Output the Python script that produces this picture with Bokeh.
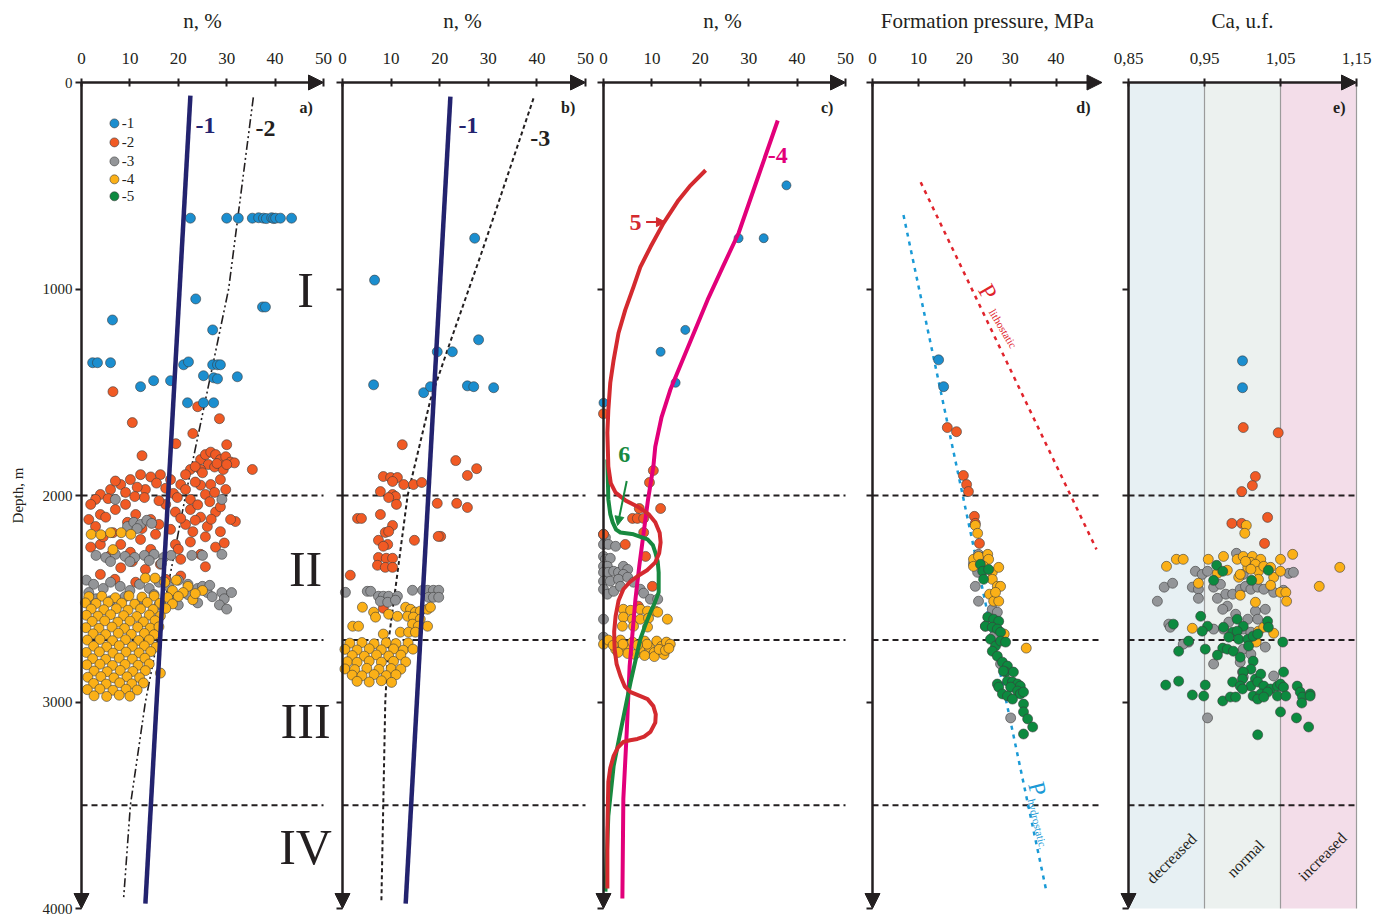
from bokeh.plotting import figure
from bokeh.layouts import row
from bokeh.models import Range1d, FixedTicker, Arrow, NormalHead
from bokeh.embed import file_html
from bokeh.resources import INLINE
from bokeh.core.properties import value

FONT = "Liberation Serif"
AX = "#231f20"
C1, C2, C3, C4, C5 = "#1b8ecf", "#f15a24", "#939598", "#fbb017", "#0c8a3f"
NAVY, MAGENTA, RED, GREENL = "#23236f", "#e2007a", "#d42a2f", "#17893f"

# ---------------- data ----------------
depth_ticks = [0, 1000, 2000, 3000, 4000]
zone_bounds = [2000, 2700, 3500]
zone_names = ["I", "II", "III", "IV"]
zone_label_depth = [1005, 2357, 3092, 3700]
n_ticks = [0, 10, 20, 30, 40, 50]
p_ticks = [0, 10, 20, 30, 40]
ca_ticks = [0.85, 0.95, 1.05, 1.15]
ca_labels = ["0,85", "0,95", "1,05", "1,15"]
ca_bands = [0.85, 0.95, 1.05, 1.15]
ca_band_names = ["decreased", "normal", "increased"]
panel_titles = ["n, %", "n, %", "n, %", "Formation pressure, MPa", "Ca, u.f."]

# trend lines (n %, depth m)
line1_a = [(22.5, 63), (13.2, 3976)]
line2_a = [(35.5, 72), (30.4, 1000), (21.5, 2000), (15.7, 2700), (13.2, 3000), (10.1, 3500), (8.7, 3952)]
line1_b = [(22.2, 68), (13.0, 3976)]
line3_b = [(39.3, 77), (28.8, 812), (21.6, 1295), (18.1, 1536), (13.4, 2000), (9.5, 2700), (8.8, 3000), (8.0, 3966)]
line4_c = [(36.0, 184), (31.9, 460), (27.9, 730), (24.6, 895), (21.5, 1053), (17.4, 1285), (13.8, 1488),
           (12.0, 1620), (10.7, 1763), (10.3, 1860), (9.2, 2020), (8.3, 2179), (7.4, 2340), (6.6, 2502),
           (5.4, 2826), (4.8, 3145), (4.1, 3469), (3.9, 3952)]
line5_c = [(21.1, 425), (18.0, 498), (15.5, 570), (12.4, 681), (9.7, 797), (7.6, 894), (6.2, 990), (4.5, 1101),
           (3.1, 1213), (2.1, 1343), (1.4, 1454), (1.0, 1585), (0.8, 1696), (1.0, 1860), (1.5, 1940), (2.5, 1986),
           (4.6, 2025), (7.0, 2053), (9.3, 2090), (10.7, 2130), (11.6, 2180), (11.8, 2227), (11.5, 2280),
           (10.7, 2324), (9.0, 2362), (7.0, 2391), (5.4, 2420), (4.1, 2454), (3.1, 2510), (2.5, 2584), (2.2, 2660),
           (2.3, 2744), (2.7, 2815), (3.5, 2874), (4.4, 2925), (5.6, 2952), (7.5, 2970), (9.1, 2986), (10.3, 3020),
           (10.8, 3060), (10.7, 3100), (9.7, 3145), (8.4, 3168), (7.0, 3179), (5.5, 3185), (4.1, 3193), (3.0, 3220),
           (2.1, 3261), (1.4, 3320), (1.0, 3386), (0.9, 3500), (0.8, 3628), (0.8, 3903)]
line6_c = [(0.8, 1826), (1.0, 2019), (1.4, 2090), (1.9, 2130), (2.6, 2165), (3.5, 2179), (6.2, 2188), (9.1, 2213),
           (10.2, 2240), (10.7, 2275), (11.2, 2320), (11.4, 2372), (11.4, 2469), (10.6, 2520), (9.7, 2565),
           (8.6, 2630), (7.6, 2696), (5.6, 2903), (3.5, 3145), (2.1, 3309), (1.0, 3551), (0.4, 3918)]
p_litho = [(10.5, 483), (48.8, 2261)]
p_hydro = [(6.75, 642), (37.9, 3918)]

# panel a points
a_blue = [(22.5, 657), (30.0, 657), (32.4, 657), (35.3, 657), (36.6, 655), (37.6, 657), (38.2, 659), (39.3, 655),
          (39.7, 659), (40.1, 657), (41.1, 657), (43.4, 657), (23.6, 1048), (37.4, 1087), (38.0, 1087), (6.4, 1150),
          (27.1, 1198), (2.3, 1357), (3.3, 1357), (6.0, 1357), (12.2, 1473), (14.9, 1444), (18.4, 1444), (21.1, 1367),
          (22.1, 1353), (27.1, 1367), (28.1, 1367), (28.7, 1367), (25.2, 1420), (27.3, 1430), (28.1, 1435),
          (32.2, 1425), (21.9, 1551), (25.2, 1551), (27.3, 1551)]
a_orange = [(6.5, 1497), (10.5, 1647), (24.0, 1570), (28.5, 1628), (23.0, 1700), (19.5, 1749), (30.0, 1754),
            (12.5, 1807), (35.3, 1874), (31.8, 2126),
            (24.6, 1826), (25.6, 1802), (26.7, 1790), (27.7, 1802), (28.7, 1826), (29.8, 1812), (26.2, 1850),
            (27.5, 1862), (29.3, 1874), (30.8, 1838), (31.6, 1842), (24.6, 1874), (22.5, 1874), (21.5, 1899),
            (23.5, 1860), (25.0, 1890), (28.0, 1845), (30.0, 1850),
            (12.2, 1899), (14.3, 1910), (16.3, 1899), (10.1, 1923), (8.1, 1947), (18.4, 1923), (20.5, 1947),
            (6.0, 1971), (3.9, 1995), (2.9, 2019), (9.1, 1985), (13.2, 1971), (17.4, 1965), (21.5, 1971),
            (24.6, 1950), (26.7, 1947), (28.7, 1923), (29.8, 1971), (25.6, 1995), (22.5, 2019), (19.0, 1990),
            (15.5, 1940), (11.5, 1960), (7.0, 1930), (27.5, 1985), (23.5, 1935),
            (1.9, 2043), (3.9, 2092), (1.5, 2116), (2.9, 2150), (5.0, 2105), (7.0, 2068), (9.1, 2043), (11.2, 2092),
            (14.3, 2116), (17.4, 2043), (19.4, 2080), (22.5, 2068), (24.6, 2105), (27.7, 2080), (28.7, 2055),
            (30.8, 2116), (21.5, 2140), (18.4, 2164), (15.3, 2188), (12.2, 2213), (8.1, 2237), (3.9, 2237),
            (1.9, 2250), (10.1, 2275), (14.3, 2261), (19.4, 2237), (22.5, 2225), (25.6, 2200), (28.7, 2175),
            (24.6, 2285), (20.5, 2309), (16.3, 2333), (13.2, 2358), (8.1, 2350), (3.9, 2382), (6.9, 2406),
            (11.2, 2420), (17.4, 2406), (20.5, 2390), (25.6, 2345), (27.7, 2250), (26.0, 2150), (23.0, 2175),
            (16.0, 2140), (12.5, 2160), (6.5, 2180), (9.5, 2130), (4.5, 2200), (29.5, 2230), (20.0, 2260),
            (6.0, 2290), (10.5, 2320), (13.0, 2010), (16.0, 2025), (19.8, 2010), (24.0, 2045), (26.5, 2030),
            (20.5, 2110), (23.5, 2120), (26.8, 2115), (11.0, 2005), (5.5, 2015)]
a_grey = [(7.0, 2019), (29.0, 2019), (9.5, 2150), (10.8, 2130), (12.2, 2140), (13.5, 2120), (11.5, 2160),
          (14.5, 2135), (3.0, 2290), (5.0, 2300), (7.0, 2285), (9.0, 2295), (11.0, 2300), (13.0, 2290),
          (15.0, 2285), (17.0, 2300), (18.5, 2290), (6.0, 2320), (10.0, 2320), (14.0, 2315), (16.5, 2330),
          (22.8, 2290), (25.0, 2290), (29.0, 2285), (1.0, 2410), (2.5, 2430), (1.5, 2470), (3.0, 2500),
          (2.0, 2530), (4.5, 2450), (6.0, 2420), (8.0, 2440), (10.0, 2460), (12.0, 2430), (14.0, 2450),
          (16.0, 2420), (18.0, 2440), (20.0, 2410), (22.0, 2430), (24.0, 2450), (26.0, 2470), (27.0, 2490),
          (22.0, 2480), (18.5, 2500), (15.0, 2480), (12.5, 2500), (25.0, 2440), (26.5, 2435), (29.0, 2470),
          (29.5, 2500), (31.0, 2470), (28.5, 2530), (30.0, 2550), (20.0, 2530), (24.0, 2520), (6.0, 2510),
          (9.0, 2490), (16.0, 2530)]
a_yellow = [(2.0, 2188), (4.0, 2190), (6.0, 2180), (8.2, 2180), (10.2, 2188), (6.5, 2262), (13.2, 2400),
            (15.2, 2400), (17.2, 2420), (19.6, 2410), (22.0, 2440), (25.0, 2460), (18.8, 2460), (23.0, 2505),
            (21.0, 2470), (23.5, 2475),
            (1.5, 2490), (4.2, 2488), (7.0, 2495), (9.8, 2486), (12.5, 2492), (15.0, 2487), (17.8, 2494), (20.0, 2489),
            (0.8, 2520), (3.0, 2523), (5.5, 2517), (8.3, 2521), (11.0, 2526), (13.6, 2518), (16.2, 2522), (18.8, 2525),
            (2.0, 2550), (4.6, 2553), (7.2, 2548), (9.6, 2555), (12.2, 2549), (14.8, 2552), (17.4, 2547),
            (1.0, 2580), (3.4, 2584), (6.0, 2577), (8.7, 2582), (11.4, 2586), (14.0, 2579), (16.3, 2583),
            (2.2, 2610), (4.8, 2607), (7.5, 2613), (10.0, 2608), (12.8, 2612), (15.2, 2606),
            (0.9, 2640), (3.6, 2643), (6.3, 2637), (8.9, 2644), (11.6, 2638), (14.2, 2642), (16.0, 2636),
            (2.4, 2670), (5.0, 2673), (7.6, 2667), (10.3, 2672), (13.0, 2668), (15.0, 2674),
            (1.2, 2700), (3.8, 2697), (6.4, 2703), (9.1, 2698), (11.8, 2702), (14.0, 2699),
            (2.5, 2730), (5.2, 2733), (7.8, 2727), (10.5, 2731), (13.0, 2728), (15.4, 2734),
            (1.0, 2760), (3.7, 2757), (6.5, 2763), (9.2, 2758), (11.9, 2762), (14.3, 2756),
            (2.3, 2790), (5.0, 2793), (7.8, 2787), (10.5, 2792), (13.1, 2788),
            (1.1, 2820), (3.8, 2817), (6.4, 2823), (9.0, 2818), (11.7, 2822), (14.0, 2816),
            (2.6, 2850), (5.3, 2853), (8.0, 2847), (10.6, 2852), (13.2, 2848), (16.3, 2860),
            (1.3, 2880), (4.0, 2877), (6.7, 2883), (9.4, 2878), (12.0, 2882),
            (2.5, 2910), (5.1, 2913), (7.9, 2907), (10.4, 2912), (12.8, 2908),
            (1.2, 2940), (3.8, 2937), (6.5, 2943), (9.2, 2938), (11.5, 2942),
            (2.6, 2970), (5.2, 2973), (7.8, 2967), (10.0, 2972)]

# panel b points
b_blue = [(27.2, 754), (6.6, 957), (28.0, 1246), (19.5, 1304), (22.6, 1304), (6.4, 1464), (16.7, 1502),
          (18.1, 1473), (25.7, 1469), (27.0, 1473), (31.1, 1478)]
b_orange = [(12.3, 1754), (23.3, 1831), (27.6, 1870), (25.7, 1903), (8.4, 1908), (9.9, 1913), (11.3, 1913),
            (10.3, 1932), (12.6, 1947), (14.6, 1947), (16.3, 1937), (7.8, 1981), (10.3, 1995), (10.9, 2005),
            (9.5, 2010), (11.1, 2043), (19.5, 2038), (23.5, 2038), (25.7, 2058), (7.8, 2092), (3.1, 2111),
            (3.9, 2111), (10.3, 2145), (8.8, 2179), (9.5, 2174), (20.2, 2198), (19.7, 2198), (14.8, 2217),
            (7.4, 2217), (9.3, 2237), (8.4, 2246), (7.4, 2300), (9.0, 2304), (10.3, 2304), (7.2, 2338),
            (8.8, 2348), (10.3, 2348), (1.6, 2386), (8.4, 2546)]
b_grey = [(0.6, 2469), (5.1, 2464), (5.8, 2464), (7.4, 2488), (8.4, 2488), (9.5, 2488), (11.3, 2488),
          (7.8, 2512), (9.3, 2517), (10.9, 2507), (14.4, 2459), (16.5, 2459), (17.5, 2459), (18.7, 2459),
          (19.8, 2459), (17.7, 2493), (18.7, 2493), (19.8, 2493)]
b_yellow = [(4.1, 2541), (6.4, 2565), (6.8, 2589), (2.1, 2633), (3.3, 2633), (9.5, 2575), (11.3, 2585),
            (13.0, 2541), (14.0, 2551), (15.0, 2565), (16.0, 2560), (17.5, 2551), (18.1, 2541), (13.4, 2585),
            (14.6, 2589), (16.0, 2599), (14.4, 2623), (15.6, 2633), (17.5, 2633), (11.9, 2662), (13.6, 2662),
            (15.0, 2662), (8.4, 2671),
            (1.5, 2715), (4.0, 2712), (6.5, 2718), (9.0, 2713), (11.0, 2717), (13.5, 2714),
            (0.5, 2745), (3.0, 2748), (5.5, 2742), (8.0, 2747), (10.5, 2743), (12.5, 2749), (14.5, 2744),
            (2.0, 2775), (4.5, 2778), (7.0, 2772), (9.5, 2777), (12.0, 2773),
            (1.0, 2805), (3.0, 2808), (5.5, 2802), (8.0, 2807), (10.5, 2803), (13.0, 2806),
            (0.5, 2840), (2.5, 2843), (5.0, 2837), (7.5, 2842), (10.0, 2838), (12.0, 2841),
            (2.0, 2870), (4.0, 2873), (6.5, 2867), (9.0, 2872), (11.0, 2868),
            (3.0, 2900), (5.5, 2903), (8.0, 2897), (10.1, 2905)]

# panel c points
c_blue = [(37.8, 498), (27.9, 754), (33.1, 754), (16.9, 1198), (11.8, 1304), (14.9, 1454), (0.0, 1551)]
c_orange = [(0.0, 1604), (10.3, 1879), (9.5, 1937), (11.8, 2063), (7.4, 2063), (6.0, 2111), (7.0, 2111),
            (8.3, 2111), (8.3, 2179), (4.5, 2237), (8.7, 2295), (10.1, 2440), (7.2, 2536), (0.0, 2188)]
c_grey = [(0.0, 2188), (0.4, 2203), (0.0, 2237), (1.0, 2237), (2.5, 2246), (0.0, 2295), (0.4, 2309), (1.4, 2304),
          (0.0, 2343), (0.8, 2343), (0.0, 2372), (1.0, 2372), (2.1, 2367), (3.1, 2372), (4.1, 2343), (5.0, 2358),
          (4.1, 2382), (0.0, 2415), (1.4, 2415), (3.1, 2406), (5.0, 2396), (6.2, 2420), (7.6, 2454), (0.0, 2454),
          (0.8, 2478), (2.1, 2464), (3.5, 2440), (8.3, 2473), (9.7, 2502), (11.2, 2502), (0.0, 2599), (0.0, 2686)]
c_yellow = [(4.1, 2551), (5.6, 2556), (7.6, 2551), (9.1, 2560), (10.7, 2560), (11.2, 2565), (4.1, 2589),
            (6.0, 2599), (7.6, 2599), (9.3, 2594), (13.2, 2599), (3.9, 2633), (6.2, 2633), (9.1, 2637),
            (0.0, 2720), (1.0, 2700), (2.5, 2745), (3.5, 2700), (4.5, 2740), (6.0, 2710), (7.5, 2745), (8.5, 2705),
            (9.5, 2735), (10.5, 2760), (11.0, 2705), (12.0, 2730), (13.0, 2710), (13.8, 2720), (6.5, 2770),
            (8.5, 2775), (10.5, 2780), (12.5, 2770), (5.0, 2765), (11.5, 2745), (9.0, 2720), (7.0, 2725),
            (4.0, 2720), (2.0, 2725), (12.8, 2750), (13.5, 2740), (3.0, 2760)]

# panel d points (MPa, depth)
d_blue = [(14.4, 1343), (15.5, 1473)]
d_orange = [(16.3, 1671), (18.3, 1691), (19.8, 1903), (20.5, 1947), (20.9, 1981), (22.2, 2101), (22.4, 2135),
            (23.3, 2232)]
d_grey = [(23.1, 2285), (22.9, 2372), (22.4, 2440), (23.1, 2512), (26.1, 2551), (27.2, 2565), (24.6, 2633),
          (27.9, 2816), (30.1, 3077), (22.0, 2330), (24.0, 2300), (25.5, 2600), (26.5, 2680)]
d_yellow = [(22.4, 2145), (22.9, 2183), (22.0, 2309), (22.0, 2343), (23.1, 2295), (25.1, 2285), (25.3, 2309),
            (24.2, 2343), (26.1, 2372), (27.5, 2348), (26.1, 2406), (27.2, 2440), (27.9, 2440), (25.5, 2478),
            (26.4, 2512), (27.5, 2512), (26.8, 2469), (28.7, 2671), (33.5, 2739)]
d_green = [(23.5, 2333), (24.0, 2367), (25.3, 2358), (24.2, 2406), (25.1, 2589), (26.4, 2599), (27.5, 2609),
           (24.6, 2633), (26.1, 2638), (27.2, 2647), (27.9, 2662), (25.7, 2696), (26.8, 2729), (27.9, 2705),
           (29.0, 2710), (26.1, 2754), (27.2, 2778), (28.3, 2807), (29.4, 2826), (29.0, 2855), (30.7, 2855),
           (29.4, 2899), (30.5, 2903), (31.6, 2913), (32.2, 2923), (27.2, 2913), (27.5, 2928), (30.1, 2928),
           (31.6, 2947), (32.2, 2961), (32.9, 2952), (28.3, 2961), (29.4, 2971), (30.5, 2986), (32.9, 3010),
           (32.9, 3048), (33.8, 3082), (34.9, 3121), (32.9, 3155), (28.5, 2850)]

# panel e points (Ca, depth)
e_blue = [(1.000, 1348), (1.000, 1478)]
e_orange = [(1.001, 1671), (1.047, 1696), (1.017, 1908), (1.013, 1952), (0.999, 1981), (1.033, 2106),
            (0.986, 2135), (0.999, 2135), (1.029, 2232)]
e_grey = [(0.992, 2280), (0.938, 2367), (0.947, 2382), (0.954, 2367), (0.897, 2444), (0.908, 2425), (0.934, 2444),
          (0.942, 2454), (0.962, 2444), (0.971, 2430), (0.888, 2512), (0.942, 2498), (0.967, 2498), (0.978, 2478),
          (0.987, 2478), (0.997, 2454), (1.004, 2440), (1.011, 2454), (1.020, 2444), (1.028, 2454), (1.041, 2469),
          (1.054, 2459), (1.061, 2377), (1.067, 2372), (1.001, 2382), (0.980, 2536), (0.974, 2551), (0.991, 2575),
          (1.017, 2560), (1.030, 2551), (1.007, 2599), (1.020, 2599), (0.982, 2613), (0.903, 2623), (0.905, 2638),
          (0.929, 2710), (0.922, 2720), (0.962, 2647), (0.975, 2647), (1.001, 2647), (1.011, 2662), (1.030, 2734),
          (1.001, 2744), (1.011, 2768), (0.997, 2807), (0.962, 2816), (0.954, 3077), (1.041, 2874), (1.001, 2879),
          (1.000, 2855)]
e_yellow = [(1.005, 2145), (1.003, 2183), (0.900, 2343), (0.913, 2309), (0.922, 2309), (0.955, 2309), (0.975, 2295),
            (0.993, 2309), (1.001, 2295), (1.013, 2295), (1.024, 2309), (1.050, 2309), (1.066, 2285), (1.128, 2348),
            (1.101, 2440), (0.942, 2425), (0.967, 2377), (0.980, 2362), (0.995, 2396), (1.007, 2348), (1.011, 2324),
            (1.017, 2333), (1.021, 2367), (1.028, 2343), (1.037, 2348), (1.041, 2396), (1.050, 2367), (1.037, 2435),
            (1.050, 2469), (1.057, 2469), (1.058, 2512), (0.997, 2483), (1.017, 2517), (0.934, 2643), (1.021, 2657),
            (1.041, 2667), (1.018, 2710), (1.028, 2638), (1.004, 2319), (1.011, 2357), (0.997, 2382), (1.021, 2406)]
e_green = [(0.966, 2338), (0.974, 2367), (0.962, 2411), (1.012, 2411), (1.034, 2362), (0.945, 2585), (0.909, 2623),
           (0.954, 2633), (0.947, 2657), (0.993, 2599), (1.001, 2633), (1.033, 2609), (1.034, 2638), (0.975, 2638),
           (0.987, 2662), (0.993, 2657), (0.982, 2686), (0.995, 2696), (1.007, 2696), (1.014, 2681), (1.020, 2671),
           (1.053, 2710), (0.929, 2705), (0.916, 2754), (0.951, 2744), (0.974, 2739), (0.980, 2744), (0.988, 2754),
           (1.008, 2729), (0.967, 2773), (0.997, 2783), (1.014, 2802), (1.011, 2841), (1.001, 2855), (1.000, 2889),
           (1.017, 2889), (1.024, 2865), (1.054, 2855), (0.899, 2918), (0.916, 2899), (0.951, 2918), (0.987, 2903),
           (0.997, 2923), (1.011, 2923), (1.020, 2903), (1.028, 2923), (1.037, 2937), (1.046, 2923), (1.050, 2913),
           (1.054, 2928), (1.072, 2923), (1.076, 2952), (1.079, 2976), (1.089, 2961), (1.089, 2971), (1.078, 3005),
           (0.934, 2966), (0.949, 2971), (0.974, 2995), (0.984, 2976), (0.991, 2976), (1.000, 2937), (1.014, 2971),
           (1.024, 2961), (1.033, 2952), (1.046, 2971), (1.057, 2971), (1.020, 2986), (1.028, 2976), (1.050, 3048),
           (1.071, 3077), (1.087, 3121), (1.020, 3159)]

legend_labels = ["-1", "-2", "-3", "-4", "-5"]
legend_colors = [C1, C2, C3, C4, C5]
legend_depths = [198, 290, 382, 469, 551]

# ---------------- geometry (whole figure = frame) ----------------
FH = 916            # frame height in px
Y0_PX = 82          # pixel row of depth 0
KY = (908 - 82) / 4000.0
Y_TOP = -Y0_PX / KY
Y_BOTTOM = (FH - Y0_PX) / KY
TITLE_DEPTH = (20 - Y0_PX) / KY


def xs(pts):
    return [q[0] for q in pts]


def ys(pts):
    return [q[1] for q in pts]


def make_panel(x0, kx, pad, fw, ticks, labels, show_depth_labels, x_dash_end, title, title_x):
    xstart = x0 - pad / kx
    xend = xstart + fw / kx
    p = figure(frame_width=fw, frame_height=FH, x_range=Range1d(xstart, xend),
               y_range=Range1d(Y_BOTTOM, Y_TOP), x_axis_location="above",
               toolbar_location=None, output_backend="svg",
               min_border_left=0, min_border_right=0, min_border_top=0, min_border_bottom=0,
               outline_line_color=None, background_fill_color="white", border_fill_color="white")
    p.grid.visible = False
    xa = p.xaxis[0]
    xa.fixed_location = 0
    xa.ticker = FixedTicker(ticks=ticks)
    xa.major_label_overrides = {t: l for t, l in zip(ticks, labels)}
    xa.axis_line_color = None
    xa.major_tick_in = 4
    xa.major_tick_out = 4
    xa.major_tick_line_width = 2
    xa.major_tick_line_color = AX
    xa.minor_tick_line_color = None
    xa.major_label_text_font = FONT
    xa.major_label_text_font_size = "17px"
    xa.major_label_text_color = AX
    xa.major_label_standoff = 15
    ya = p.yaxis[0]
    ya.fixed_location = x0
    ya.ticker = FixedTicker(ticks=depth_ticks)
    if not show_depth_labels:
        ya.major_label_overrides = {t: "" for t in depth_ticks}
    ya.axis_line_color = None
    ya.major_tick_in = 0
    ya.major_tick_out = 6
    ya.major_tick_line_width = 2
    ya.major_tick_line_color = AX
    ya.minor_tick_line_color = None
    ya.major_label_text_font = FONT
    ya.major_label_text_font_size = "15px"
    ya.major_label_text_color = AX
    ya.major_label_standoff = 3
    p.text(x=[title_x], y=[TITLE_DEPTH], text=[title], text_color=AX, text_font=value(FONT),
           text_font_size="21px", text_align="center", text_baseline="middle")
    p.segment(x0=[x0] * len(zone_bounds), x1=[x_dash_end] * len(zone_bounds), y0=zone_bounds, y1=zone_bounds,
              line_color=AX, line_width=2, line_dash="6 4")
    return p


def add_axes_arrows(p, x0, x_arrow):
    p.add_layout(Arrow(end=NormalHead(size=15, fill_color=AX, line_color=AX, line_width=1),
                       x_start=x0, y_start=0, x_end=x_arrow, y_end=0, line_color=AX, line_width=2.5))
    p.add_layout(Arrow(end=NormalHead(size=15, fill_color=AX, line_color=AX, line_width=1),
                       x_start=x0, y_start=0, x_end=x0, y_end=4000, line_color=AX, line_width=2.5))


def dots(p, pts, color, size=10):
    p.scatter(xs(pts), ys(pts), size=size, fill_color=color, line_color="#3c3c3c", line_width=0.6)


def label(p, x, y, t, color=AX, size="22px", style="bold", align="center", angle=0.0, baseline="middle"):
    p.text(x=[x], y=[y], text=[t], text_color=color, text_font=value(FONT), text_font_size=size,
           text_font_style=style, text_align=align, text_baseline=baseline, angle=angle)


n_labels = [str(t) for t in n_ticks]

# ---- panel a ----
pa = make_panel(0, 4.84, 81, 333, n_ticks, n_labels, True, 50, panel_titles[0], 25)
label(pa, -13.2, 2000, "Depth, m", AX, "15px", "normal", angle=1.5708)
pa.line(xs(line2_a), ys(line2_a), line_color=AX, line_width=1.6, line_dash="9 3 2 3 2 3")
dots(pa, a_orange, C2)
dots(pa, a_grey, C3)
dots(pa, a_yellow, C4)
dots(pa, a_blue, C1)
pa.line(xs(line1_a), ys(line1_a), line_color=NAVY, line_width=4.5)
pa.scatter([6.8] * 5, legend_depths, size=9, fill_color=legend_colors, line_color="#3c3c3c", line_width=0.6)
pa.text(x=[8.3] * 5, y=legend_depths, text=legend_labels, text_color=AX, text_font=value(FONT),
        text_font_size="15px", text_baseline="middle", text_align="left")
label(pa, 25.6, 208, "-1", NAVY, "24px")
label(pa, 38.0, 222, "-2", AX, "24px")
label(pa, 47.8, 120, "a)", AX, "16px", align="right")
pa.text(x=[46.3] * 4, y=zone_label_depth, text=zone_names, text_color=AX, text_font=value(FONT),
        text_font_size="50px", text_align="center", text_baseline="middle")
add_axes_arrows(pa, 0, 50)

# ---- panel b ----
pb = make_panel(0, 4.86, 9, 261, n_ticks, n_labels, False, 50, panel_titles[1], 24.7)
pb.line(xs(line3_b), ys(line3_b), line_color=AX, line_width=2, line_dash="4 3")
dots(pb, b_orange, C2)
dots(pb, b_grey, C3)
dots(pb, b_yellow, C4)
dots(pb, b_blue, C1)
pb.line(xs(line1_b), ys(line1_b), line_color=NAVY, line_width=4.5)
label(pb, 25.9, 208, "-1", NAVY, "24px")
label(pb, 40.7, 270, "-3", AX, "24px")
label(pb, 47.9, 120, "b)", AX, "16px", align="right")
add_axes_arrows(pb, 0, 50)

# ---- panel c ----
pc = make_panel(0, 4.84, 9, 262, n_ticks, n_labels, False, 50, panel_titles[2], 24.6)
dots(pc, c_grey, C3)
dots(pc, c_orange, C2)
dots(pc, c_yellow, C4)
dots(pc, c_blue, C1, 9)
pc.line(xs(line4_c), ys(line4_c), line_color=MAGENTA, line_width=4, line_join="round")
pc.line(xs(line6_c), ys(line6_c), line_color=GREENL, line_width=4, line_join="round")
pc.line(xs(line5_c), ys(line5_c), line_color=RED, line_width=4, line_join="round")
label(pc, 36.0, 353, "-4", MAGENTA, "24px")
label(pc, 6.6, 676, "5", RED, "24px")
pc.add_layout(Arrow(end=NormalHead(size=9, fill_color=RED, line_color=RED), x_start=8.8, y_start=676,
                    x_end=12.8, y_end=676, line_color=RED, line_width=2))
label(pc, 4.3, 1802, "6", GREENL, "24px")
pc.add_layout(Arrow(end=NormalHead(size=9, fill_color=GREENL, line_color=GREENL), x_start=4.8, y_start=1930,
                    x_end=2.9, y_end=2145, line_color=GREENL, line_width=2))
label(pc, 47.5, 120, "c)", AX, "16px", align="right")
add_axes_arrows(pc, 0, 50)

# ---- panel d ----
pd_ = make_panel(0, 4.59, 16, 254, p_ticks, [str(t) for t in p_ticks], False, 49.5, panel_titles[3], 25)
pd_.line(xs(p_litho), ys(p_litho), line_color="#e0242c", line_width=2.5, line_dash="4 5")
pd_.line(xs(p_hydro), ys(p_hydro), line_color="#1a9ad6", line_width=2.5, line_dash="4 5")
dots(pd_, d_orange, C2)
dots(pd_, d_grey, C3)
dots(pd_, d_yellow, C4)
dots(pd_, d_green, C5)
dots(pd_, d_blue, C1)
label(pd_, 25.1, 1014, "P", "#e0242c", "24px", "normal", angle=-1.05)
label(pd_, 26.0, 1101, "lithostatic", "#e0242c", "11px", "normal", align="left", angle=-1.03)
label(pd_, 35.9, 3420, "P", "#1a9ad6", "24px", "normal", angle=-1.33)
label(pd_, 34.6, 3470, "hydrostatic.", "#1a9ad6", "11px", "normal", align="left", angle=-1.33)
label(pd_, 47.5, 120, "d)", AX, "16px", align="right")
add_axes_arrows(pd_, 0, 50)

# ---- panel e ----
pe = make_panel(0.85, 760, 18, 265, ca_ticks, ca_labels, False, 1.15, panel_titles[4], 1.0)
pe.quad(left=ca_bands[:-1], right=ca_bands[1:], top=[0] * 3, bottom=[4000] * 3,
        fill_color=["#e7f0f3", "#ecf1ef", "#f3dde9"], line_color=None, level="underlay")
pe.segment(x0=ca_bands[1:], x1=ca_bands[1:], y0=[0] * 3, y1=[4000] * 3, line_color="#9b9b9b", line_width=1.2,
           level="underlay")
dots(pe, e_grey, C3)
dots(pe, e_orange, C2)
dots(pe, e_yellow, C4)
dots(pe, e_green, C5)
dots(pe, e_blue, C1)
pe.text(x=[0.9066, 1.004, 1.105], y=[3758, 3758, 3749], text=ca_band_names, text_color=AX,
        text_font=value(FONT), text_font_size="16px", text_align="center", text_baseline="middle", angle=0.785)
label(pe, 1.1355, 120, "e)", AX, "16px", align="right")
add_axes_arrows(pe, 0.85, 1.15)

layout = row(pa, pb, pc, pd_, pe, spacing=0)
open("out.html", "w").write(file_html(layout, INLINE))
